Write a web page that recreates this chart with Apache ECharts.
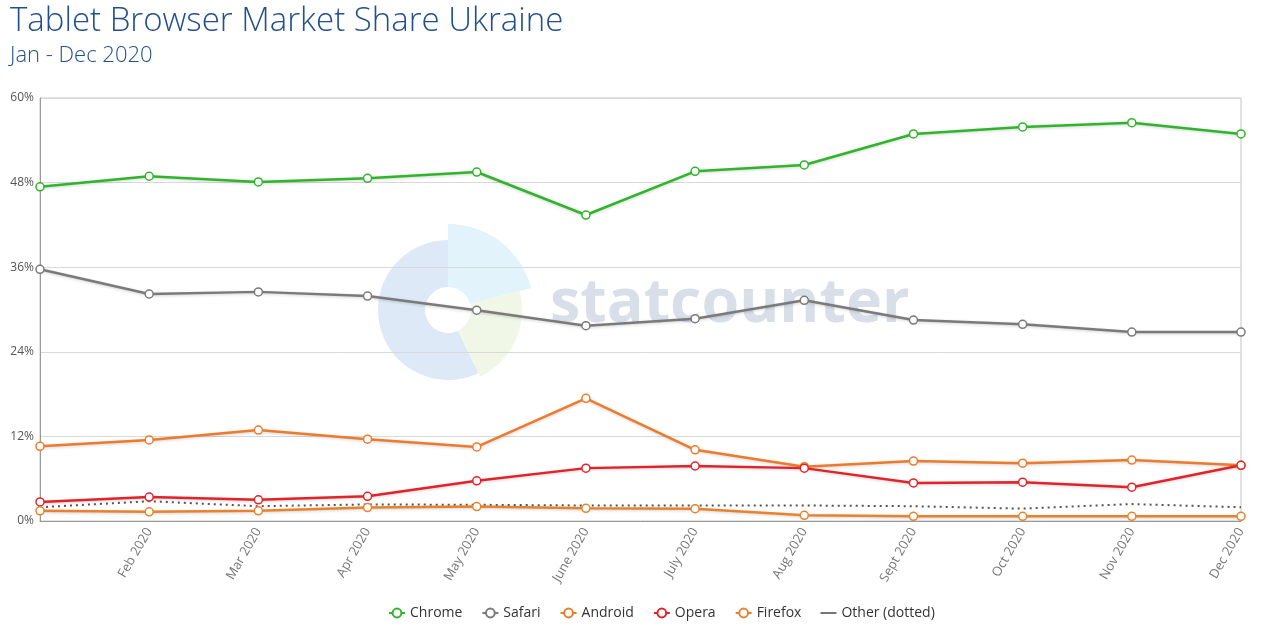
<!DOCTYPE html>
<html>
<head>
<meta charset="utf-8">
<script src="https://cdn.jsdelivr.net/npm/echarts@6/dist/echarts.min.js"></script>
<style>html,body{margin:0;padding:0;background:#fff}#c{width:1280px;height:631px}</style>
</head>
<body>
<div id="c"></div>
<script>
var categories = ['Jan 2020','Feb 2020','Mar 2020','Apr 2020','May 2020','June 2020','July 2020','Aug 2020','Sept 2020','Oct 2020','Nov 2020','Dec 2020'];
var chrome  = [47.4, 48.9, 48.1, 48.6, 49.5, 43.4, 49.6, 50.5, 54.9, 55.9, 56.5, 54.9];
var safari  = [35.7, 32.2, 32.5, 31.9, 29.9, 27.7, 28.7, 31.3, 28.5, 27.9, 26.8, 26.8];
var android = [10.6, 11.5, 12.9, 11.6, 10.5, 17.4, 10.1, 7.7, 8.5, 8.2, 8.65, 7.9];
var opera   = [2.7, 3.4, 3.0, 3.5, 5.7, 7.5, 7.8, 7.5, 5.4, 5.5, 4.8, 7.9];
var firefox = [1.45, 1.3, 1.45, 1.9, 2.05, 1.8, 1.75, 0.8, 0.66, 0.66, 0.66, 0.66];
var other   = [1.95, 2.8, 2.1, 2.35, 2.3, 2.2, 2.2, 2.2, 2.1, 1.75, 2.4, 1.95];
var yTicks  = [0, 12, 24, 36, 48, 60];

var chart = echarts.init(document.getElementById('c'));
function lineSeries(name, data, color) {
  return {
    name: name, type: 'line', data: data,
    symbol: 'circle', symbolSize: 8, showSymbol: true,
    lineStyle: { color: color, width: 2.5, shadowColor: 'rgba(0,0,0,0.18)', shadowBlur: 3, shadowOffsetY: 1 },
    itemStyle: { color: '#fff', borderColor: color, borderWidth: 1.5 },
    z: 3
  };
}
var sc = { cx: 448, cy: 310 };
chart.setOption({
  backgroundColor: '#ffffff',
  animation: false,
  title: [
    { text: 'Tablet Browser Market Share Ukraine', left: 5, top: 0,
      textStyle: { fontFamily: 'Open Sans', fontSize: 33, fontWeight: 300, color: '#22508c' } },
    { text: 'Jan - Dec 2020', left: 5, top: 40,
      textStyle: { fontFamily: 'Open Sans', fontSize: 22, fontWeight: 300, color: '#22508c' } }
  ],
  graphic: [
    { type: 'sector', z: 0, silent: true, shape: { cx: sc.cx, cy: sc.cy, r: 70, r0: 23, startAngle: 1.12, endAngle: Math.PI * 1.5 }, style: { fill: '#dde9f6' } },
    { type: 'sector', z: 0, silent: true, shape: { cx: sc.cx, cy: sc.cy, r: 86, r0: 23, startAngle: -Math.PI / 2, endAngle: -0.26 }, style: { fill: '#e2f3fb' } },
    { type: 'sector', z: 0, silent: true, shape: { cx: sc.cx, cy: sc.cy, r: 74, r0: 23, startAngle: -0.26, endAngle: 1.12 }, style: { fill: '#f1f7e6' } },
    { type: 'text', z: 0, silent: true, left: 550, top: 274,
      style: { text: 'statcounter', font: 'bold 61px "Open Sans"', fill: '#d8dfe9' } }
  ],
  legend: {
    bottom: 6, left: 383, itemGap: 19, itemWidth: 16, itemHeight: 11,
    textStyle: { fontFamily: 'Open Sans', fontSize: 14, color: '#333' },
    data: ['Chrome', 'Safari', 'Android', 'Opera', 'Firefox',
      { name: 'Other (dotted)', icon: 'path://M0,0L20,0L20,2L0,2Z', itemStyle: { color: '#555' } }]
  },
  grid: { left: 40, right: 39, top: 98, bottom: 110, show: true, borderColor: '#c4c4c4', borderWidth: 1,
    backgroundColor: 'rgba(0,0,0,0)' },
  xAxis: {
    type: 'category', data: categories, boundaryGap: false,
    axisLine: { lineStyle: { color: '#999' } },
    axisTick: { show: false },
    axisLabel: { rotate: 60, color: '#777', fontFamily: 'Open Sans', fontSize: 13, margin: 8,
      interval: function (i) { return i > 0; } },
    splitLine: { show: false }
  },
  yAxis: {
    type: 'value', min: yTicks[0], max: yTicks[yTicks.length - 1], interval: 12,
    axisLine: { show: true, lineStyle: { color: '#999' } },
    axisTick: { show: false },
    axisLabel: { formatter: '{value}%', color: '#555', fontFamily: 'Open Sans', fontSize: 12, margin: 6 },
    splitLine: { lineStyle: { color: '#d9d9d9' } }
  },
  series: [
    lineSeries('Chrome', chrome, '#2fb52a'),
    lineSeries('Safari', safari, '#7a7a7a'),
    lineSeries('Android', android, '#ee7a2b'),
    lineSeries('Opera', opera, '#e4222a'),
    lineSeries('Firefox', firefox, '#e8822e'),
    { name: 'Other (dotted)', type: 'line', data: other, symbol: 'none',
      lineStyle: { color: '#555', width: 2, type: [2, 4] }, itemStyle: { color: '#555' }, z: 2 }
  ]
});
</script>
</body>
</html>
